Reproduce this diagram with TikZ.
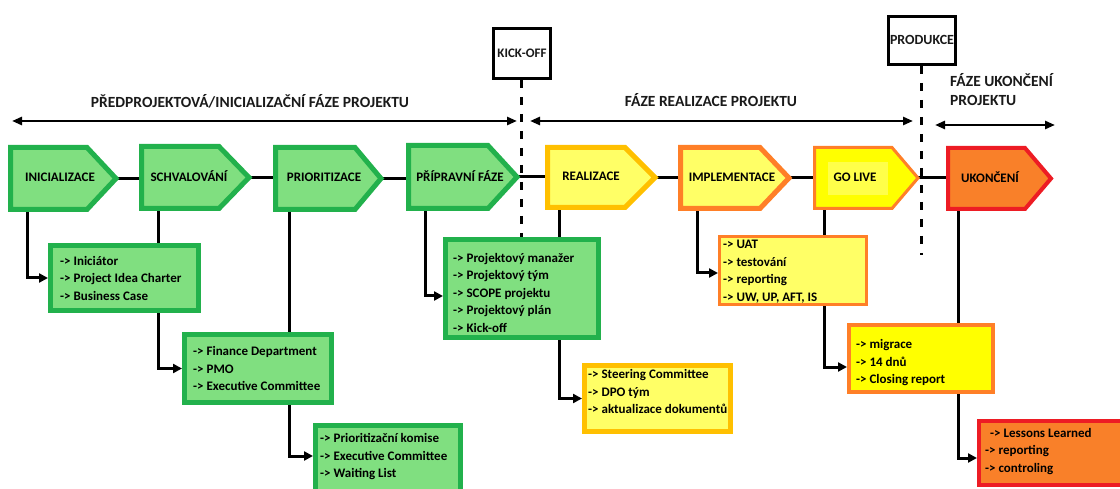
\documentclass[tikz,border=0pt]{standalone}
\usepackage{fontspec}
\setmainfont{Carlito}
\usetikzlibrary{arrows.meta}
\definecolor{gfill}{HTML}{80DF80}
\definecolor{gline}{HTML}{22B14C}
\definecolor{yfill}{HTML}{FFFF66}
\definecolor{goldln}{HTML}{FFC000}
\definecolor{orln}{HTML}{FF7F27}
\definecolor{yel}{HTML}{FFFF00}
\definecolor{yelpale}{HTML}{FFFF4A}
\definecolor{orfill}{HTML}{F98029}
\definecolor{redln}{HTML}{ED1C24}
\definecolor{hdrcol}{HTML}{1A1A1A}
\pgfdeclarelayer{bg}
\pgfsetlayers{bg,main}
% #1 name, #2 style, #3 left x, #4 shoulder x, #5 tip x, #6 top y, #7 bottom y, #8 text, #9 text x
\newcommand{\phasebox}[9]{%
  \node[inner sep=0pt, outer sep=0pt, minimum width={(#5-#3)*1pt}, minimum height={(#7-#6)*1pt}] (#1) at ({(#3+#5)/2},{(#6+#7)/2}) {};
  \draw[#2] (#1.north west) -- (#4,#6) -- (#1.east) -- (#4,#7) -- (#1.south west) -- cycle;
  \node[phtext] (#1t) at (#9,{(#6+#7)/2-1}) {#8};
}
\begin{document}
\begin{tikzpicture}[x=1pt,y=-1pt,
  pg/.style={fill=gfill,draw=gline,line width=5pt},
  py/.style={fill=yfill,draw=goldln,line width=5pt},
  pyo/.style={fill=yfill,draw=orln,line width=5pt},
  pgo/.style={fill=yel,draw=orln,line width=3pt},
  por/.style={fill=orfill,draw=redln,line width=4pt},
  phtext/.style={font=\bfseries\fontsize{13}{15}\selectfont, inner sep=0pt, text=black},
  dbox/.style={inner sep=0pt},
  list/.style={font=\bfseries\fontsize{13}{17.5}\selectfont, align=left, inner sep=0pt, anchor=west, text=black},
  conn/.style={line width=3pt, -{Triangle[length=9pt,width=9pt]}},
  tl/.style={line width=3pt},
  hdr/.style={font=\bfseries\fontsize{15.5}{19}\selectfont, inner sep=0pt, text=hdrcol},
  harrow/.style={line width=2.5pt, {Triangle[length=10pt,width=8pt]}-{Triangle[length=10pt,width=8pt]}},
  milestone/.style={draw=black, line width=3pt, inner sep=0pt, fill=white, font=\bfseries\fontsize{13}{15}\selectfont, text=hdrcol},
  dashline/.style={line width=3pt, dash pattern=on 8pt off 9pt}
]
\useasboundingbox (0,0) rectangle (1120,489);

% header
\node[hdr] (h1) at (250,101) {PŘEDPROJEKTOVÁ/INICIALIZAČNÍ FÁZE PROJEKTU};
\node[hdr] (h2) at (711,100) {FÁZE REALIZACE PROJEKTU};
\node[hdr, align=left, anchor=west] (h3) at (950,89.5) {FÁZE UKONČENÍ\\PROJEKTU};
\coordinate (a1l) at (12,121);
\coordinate (a1r) at (517,121);
\coordinate (a2l) at (530,121);
\coordinate (a2r) at (913,121);
\coordinate (a3l) at (935,125);
\coordinate (a3r) at (1055,125);
\draw[harrow] (a1l) -- (a1r);
\draw[harrow] (a2l) -- (a2r);
\draw[harrow] (a3l) -- (a3r);

% milestones
\node[milestone, minimum width=57pt, minimum height=50pt] (kick) at (522,53.5) {KICK-OFF};
\node[milestone, minimum width=67pt, minimum height=48pt, font=\bfseries\fontsize{14}{16}\selectfont] (prod) at (922,40.5) {\raisebox{2pt}{PRODUKCE}};
\coordinate (kend) at (521,240);
\coordinate (pend) at (921,255);

% phases
\phasebox{ini}{pg}{10.5}{87}{116}{147.5}{209.5}{INICIALIZACE}{60}
\phasebox{sch}{pg}{141.5}{219}{249}{146.5}{208.5}{SCHVALOVÁNÍ}{189}
\phasebox{pri}{pg}{275.5}{355}{381}{147.5}{209.5}{PRIORITIZACE}{324}
\phasebox{ppf}{pg}{408.5}{488}{517}{145.5}{208.5}{PŘÍPRAVNÍ FÁZE}{460}
\phasebox{rea}{py}{547.5}{625}{655}{147.5}{207.5}{REALIZACE}{591}
\phasebox{imp}{pyo}{680.5}{760}{789}{147.5}{208.5}{IMPLEMENTACE}{732}
\phasebox{gol}{pgo}{814.5}{892}{918}{147.5}{208.5}{}{855}
\node[fill=yelpale, minimum width=60pt, minimum height=33pt, inner sep=0pt] (golbg) at (858,178.5) {};
\node[phtext] (golt2) at (855,177) {GO LIVE};
\phasebox{uko}{por}{948}{1025}{1051}{148}{209}{UKONČENÍ}{990}

% detail boxes
\node[dbox, pg, minimum width=148pt, minimum height=65pt] (d1) at (124.5,278) {};
\node[list] (t1) at ([xshift=12pt]d1.west) {-> Iniciátor\\-> Project Idea Charter\\-> Business Case};
\node[dbox, pg, minimum width=147pt, minimum height=68pt] (d2) at (258,368.5) {};
\node[list] (t2) at ([xshift=11pt]d2.west) {-> Finance Department\\-> PMO\\-> Executive Committee};
\node[dbox, pg, minimum width=145pt, minimum height=67pt] (d3) at (388,459) {};
\node[list] (t3) at ([xshift=7pt,yshift=2pt]d3.west) {-> Prioritizační komise\\-> Executive Committee\\-> Waiting List};
\node[dbox, pg, minimum width=153pt, minimum height=98pt] (d4) at (522,288.5) {};
\node[list] (t4) at ([xshift=10pt,yshift=-4pt]d4.west) {-> Projektový manažer\\-> Projektový tým\\-> SCOPE projektu\\-> Projektový plán\\-> Kick-off};
\node[dbox, py, minimum width=146pt, minimum height=66pt] (d5) at (657.5,398.5) {};
\node[list] (t5) at ([xshift=6pt,yshift=7pt]d5.west) {-> Steering Committee\\-> DPO tým\\-> aktualizace dokumentů};
\node[dbox, fill=yfill, draw=orln, line width=3pt, minimum width=147pt, minimum height=68pt] (d6) at (793,270.5) {};
\node[list] (t6) at ([xshift=5pt,yshift=-1pt]d6.west) {-> UAT\\-> testování\\-> reporting\\-> UW, UP, AFT, IS};
\node[dbox, fill=yel, draw=orln, line width=4pt, minimum width=144pt, minimum height=67pt] (d7) at (921,358.5) {};
\node[list] (t7) at ([xshift=9pt,yshift=-4.5pt]d7.west) {-> migrace\\-> 14 dnů\\-> Closing report};
\node[dbox, por, minimum width=146pt, minimum height=64pt] (d8) at (1052,452.5) {};
\node[list] (t8) at ([xshift=8pt,yshift=1pt]d8.west) {\hspace{5pt}-> Lessons Learned\\-> reporting\\-> controling};

\begin{pgfonlayer}{bg}
  % timeline
  \draw[tl] (ini.east) -- (ini.east -| sch.west);
  \draw[tl] (sch.east) -- (sch.east -| pri.west);
  \draw[tl] (pri.east) -- (pri.east -| ppf.west);
  \draw[tl] (ppf.east) -- (ppf.east -| rea.west);
  \draw[tl] (rea.east) -- (rea.east -| imp.west);
  \draw[tl] (imp.east) -- (imp.east -| gol.west);
  \draw[tl] (gol.east) -- (gol.east -| uko.west);
  % milestone dashed lines
  \draw[dashline] (kick.south) ++(-1pt,0) -- (kend);
  \draw[dashline] (prod.south) ++(-1pt,0) -- (pend);
  % connectors
  \draw[conn] ([xshift=16.5pt]ini.south west) |- (d1.west);
  \draw[conn] ([xshift=16.5pt]sch.south west) |- (d2.west);
  \draw[conn] ([xshift=13.5pt]pri.south west) |- ([yshift=3pt]d3.west);
  \draw[conn] ([xshift=16.5pt]ppf.south west) |- ([yshift=-7.5pt]d4.west);
  \draw[conn] ([xshift=11.5pt]rea.south west) |- (d5.west);
  \draw[conn] ([xshift=16.5pt]imp.south west) |- ([yshift=-2.5pt]d6.west);
  \draw[conn] ([xshift=9.5pt]gol.south west) |- ([yshift=-8.5pt]d7.west);
  \draw[conn] ([xshift=10pt]uko.south west) |- ([yshift=-5.5pt]d8.west);
\end{pgfonlayer}
\end{tikzpicture}
\end{document}
